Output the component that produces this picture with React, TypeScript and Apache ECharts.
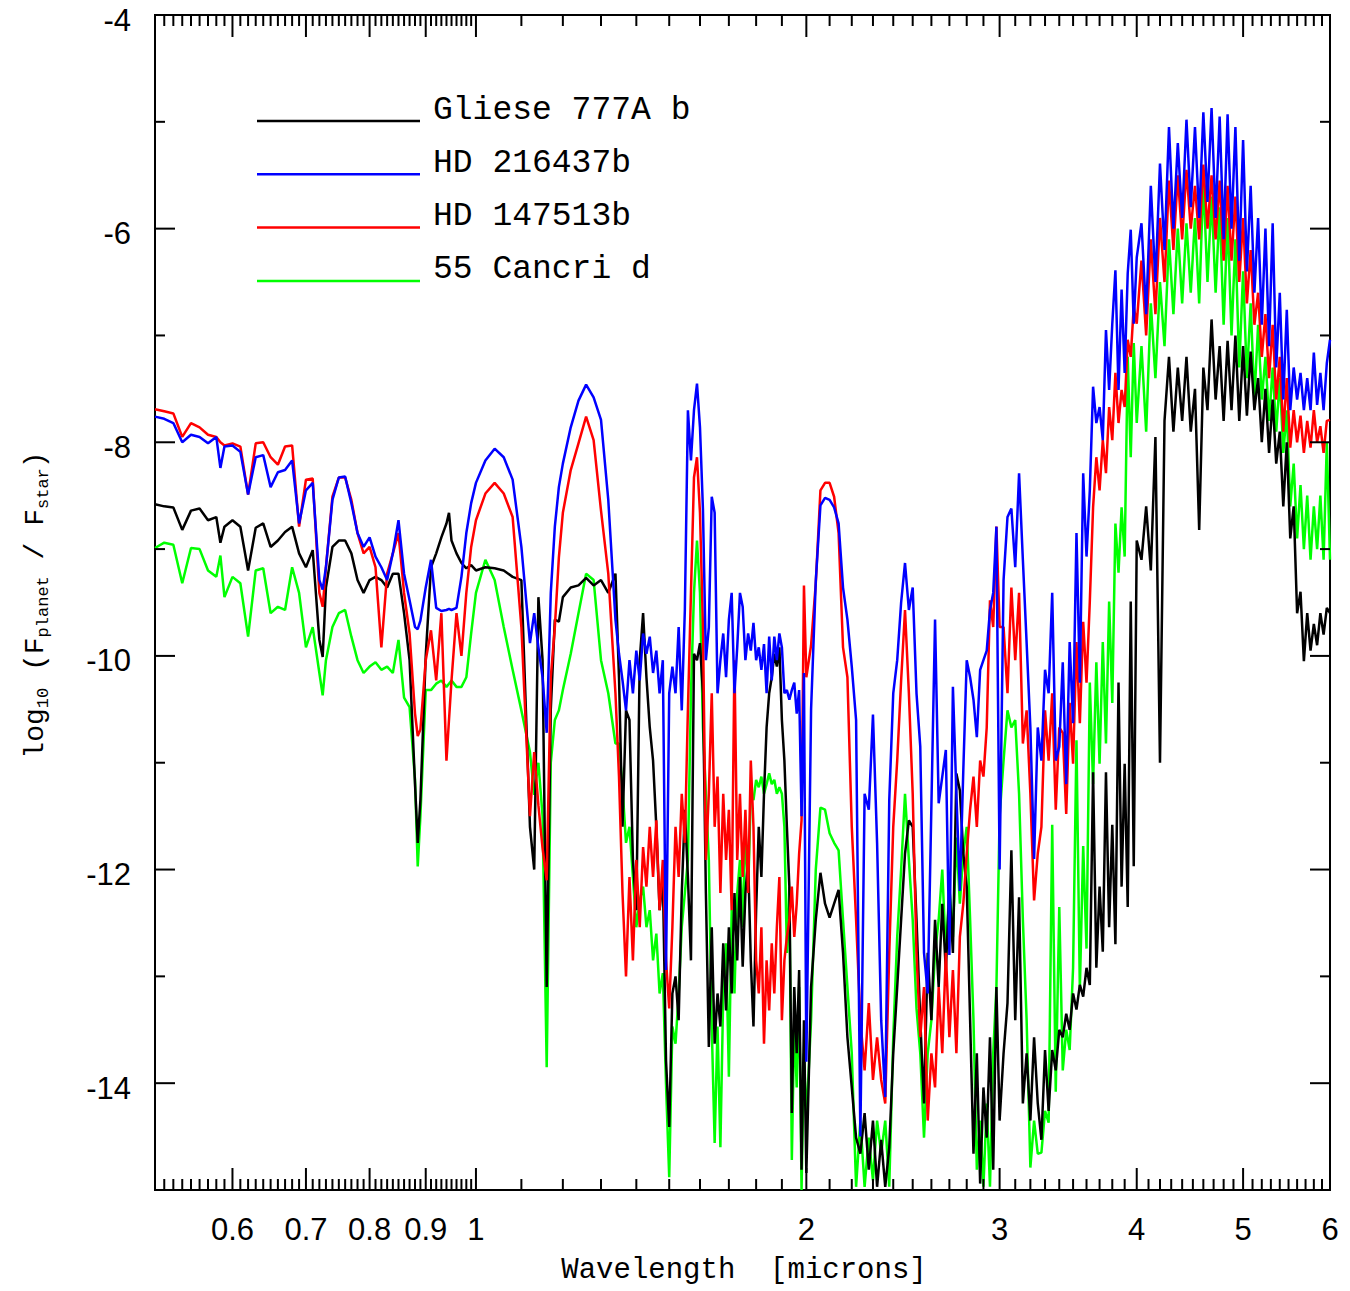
import React, { useEffect, useRef } from "react";
import * as echarts from "echarts";

// ---------------- DATA ----------------
// wavelength grid in microns (shared by the four spectra)
const wavelengths = [
  // 0.51 - 0.90
  0.51, 0.52, 0.53, 0.54, 0.55, 0.56, 0.57, 0.58, 0.585, 0.59,
  0.60, 0.61, 0.62, 0.63, 0.64, 0.65, 0.66, 0.67, 0.68, 0.69,
  0.70, 0.71, 0.72, 0.725, 0.73, 0.74, 0.75, 0.76, 0.77, 0.78,
  0.79, 0.80, 0.81, 0.82, 0.83, 0.84, 0.85, 0.86, 0.87, 0.88,
  0.885, 0.89, 0.90,
  // 0.91 - 1.34
  0.91, 0.92, 0.93, 0.94, 0.945, 0.95, 0.96, 0.97, 0.98, 0.99,
  1.00, 1.02, 1.04, 1.06, 1.08, 1.10, 1.12, 1.13, 1.14, 1.15,
  1.16, 1.17, 1.18, 1.19, 1.20, 1.22, 1.24, 1.26, 1.28, 1.30,
  1.32, 1.34,
  // 1.35 - 2.00
  1.35, 1.36, 1.37, 1.38, 1.39, 1.40, 1.41, 1.42, 1.43, 1.44,
  1.45, 1.46, 1.47, 1.48, 1.49, 1.50, 1.51, 1.52, 1.53, 1.54,
  1.55, 1.56, 1.57, 1.58, 1.59, 1.60, 1.61, 1.62, 1.63, 1.64,
  1.65, 1.66, 1.67, 1.68, 1.69, 1.70, 1.71, 1.72, 1.73, 1.74,
  1.75, 1.76, 1.77, 1.78, 1.79, 1.80, 1.81, 1.82, 1.83, 1.84,
  1.85, 1.86, 1.87, 1.88, 1.89, 1.90, 1.91, 1.92, 1.93, 1.94,
  1.95, 1.96, 1.97, 1.98, 1.99, 2.00,
  // 2.02 - 3.00
  2.02, 2.04, 2.06, 2.08, 2.10, 2.12, 2.14, 2.16, 2.18, 2.20,
  2.22, 2.24, 2.26, 2.28, 2.30, 2.32, 2.34, 2.36, 2.38, 2.40,
  2.42, 2.44, 2.46, 2.48, 2.50, 2.52, 2.54, 2.56, 2.58, 2.60,
  2.62, 2.64, 2.66, 2.68, 2.70, 2.72, 2.74, 2.76, 2.78, 2.80,
  2.82, 2.84, 2.86, 2.88, 2.90, 2.92, 2.94, 2.96, 2.98, 3.00,
  // 3.025 - 4.00
  3.025, 3.05, 3.075, 3.10, 3.125, 3.15, 3.175, 3.20, 3.225, 3.25,
  3.275, 3.30, 3.325, 3.35, 3.375, 3.40, 3.425, 3.45, 3.475, 3.50,
  3.525, 3.55, 3.575, 3.60, 3.625, 3.65, 3.675, 3.70, 3.725, 3.75,
  3.775, 3.80, 3.825, 3.85, 3.875, 3.90, 3.925, 3.95, 3.975, 4.00,
  // 4.04 - 6.00
  4.04, 4.08, 4.12, 4.16, 4.20, 4.24, 4.28, 4.32, 4.36, 4.40,
  4.44, 4.48, 4.52, 4.56, 4.60, 4.64, 4.68, 4.72, 4.76, 4.80,
  4.84, 4.88, 4.92, 4.96, 5.00, 5.04, 5.08, 5.12, 5.16, 5.20,
  5.24, 5.28, 5.32, 5.36, 5.40, 5.44, 5.48, 5.52, 5.56, 5.60,
  5.64, 5.68, 5.72, 5.76, 5.80, 5.84, 5.88, 5.92, 5.96, 6.00,
];

// log10(F_planet / F_star)
const gliese777Ab = [
  -8.58, -8.60, -8.61, -8.82, -8.64, -8.62, -8.73, -8.70, -8.94, -8.79,
  -8.73, -8.79, -9.20, -8.80, -8.76, -8.98, -8.92, -8.84, -8.79, -9.04,
  -9.17, -9.01, -9.85, -10.01, -9.36, -8.98, -8.92, -8.92, -9.04, -9.29,
  -9.41, -9.29, -9.26, -9.29, -9.36, -9.23, -9.23, -9.60, -10.04, -11.20,
  -11.75, -11.35, -10.00,
  -9.17, -9.04, -8.89, -8.76, -8.66, -8.92, -9.04, -9.13, -9.18, -9.15,
  -9.20, -9.17, -9.18, -9.20, -9.26, -9.29, -11.60, -12.00, -9.45, -10.04,
  -13.10, -10.50, -9.66, -9.68, -9.45, -9.36, -9.34, -9.27, -9.34, -9.29,
  -9.41, -9.23,
  -10.20, -11.60, -10.51, -10.60, -11.91, -12.38, -10.04, -9.60, -10.20, -10.67,
  -10.98, -11.60, -12.38, -12.07, -13.79, -14.41, -13.16, -13.00, -13.41, -12.22,
  -11.44, -12.07, -12.85, -9.98, -10.04, -9.88, -10.35, -12.22, -13.66, -12.54,
  -13.63, -13.16, -13.47, -12.69, -13.32, -12.54, -13.16, -12.22, -12.85, -12.07,
  -12.91, -12.22, -11.91, -12.85, -13.47, -12.38, -11.60, -12.07, -11.29, -10.67,
  -10.35, -10.20, -9.98, -10.10, -9.92, -10.60, -10.98, -11.60, -12.16, -14.28,
  -13.10, -13.72, -12.94, -14.81, -13.41, -14.84,
  -13.10, -12.47, -12.03, -12.32, -12.45, -12.32, -12.19, -12.78, -13.57, -14.04,
  -14.51, -14.66, -14.28, -14.81, -14.35, -14.97, -14.53, -14.97, -14.60, -13.72,
  -13.10, -12.47, -11.85, -11.54, -11.60, -12.47, -13.41, -14.19, -12.78, -13.41,
  -12.47, -13.10, -12.32, -12.94, -12.16, -12.78, -11.10, -11.26, -11.85, -12.16,
  -13.41, -14.66, -13.72, -14.94, -14.04, -14.51, -13.57, -14.81, -13.10, -14.35,
  -13.72, -13.25, -11.82, -13.41, -12.26, -14.19, -13.72, -14.35, -13.57, -14.19,
  -14.53, -13.69, -14.26, -13.69, -13.88, -13.50, -13.57, -13.35, -13.50, -13.16,
  -13.31, -13.08, -13.19, -12.92, -13.08, -11.09, -12.92, -12.16, -12.77, -11.09,
  -12.54, -11.58, -12.70, -10.25, -12.16, -11.01, -12.35, -9.49, -11.97, -8.92,
  -9.10, -8.60, -9.20, -7.95, -11.00, -7.80, -7.20, -7.90, -7.30, -7.80,
  -7.20, -7.90, -7.50, -8.82, -7.30, -7.70, -6.85, -7.60, -7.10, -7.80,
  -7.05, -7.70, -7.00, -7.80, -7.10, -7.75, -7.15, -7.70, -7.40, -8.00,
  -7.50, -8.10, -7.60, -8.20, -7.90, -8.60, -8.00, -8.90, -8.60, -9.60,
  -9.40, -10.05, -9.60, -9.95, -9.70, -9.90, -9.60, -9.80, -9.55, -9.60,
];

const hd216437b = [
  -7.76, -7.78, -7.82, -8.00, -7.93, -7.95, -8.01, -7.95, -8.24, -8.04,
  -8.03, -8.09, -8.49, -8.14, -8.12, -8.42, -8.28, -8.26, -8.17, -8.76,
  -8.45, -8.38, -9.29, -9.38, -9.17, -8.54, -8.33, -8.32, -8.57, -8.85,
  -8.98, -8.89, -9.07, -9.17, -9.29, -9.04, -8.73, -9.23, -9.48, -9.73,
  -9.75, -9.67, -9.36,
  -9.10, -9.55, -9.58, -9.57, -9.56, -9.57, -9.55, -9.26, -8.85, -8.57,
  -8.38, -8.17, -8.06, -8.14, -8.35, -8.98, -9.88, -9.60, -9.92, -10.20,
  -10.72, -9.41, -8.79, -8.42, -8.20, -7.86, -7.61, -7.46, -7.58, -7.79,
  -8.54, -9.66,
  -9.98, -10.23, -10.51, -10.04, -10.35, -9.95, -10.23, -9.79, -9.98, -9.82,
  -10.16, -9.95, -10.35, -10.04, -12.94, -10.35, -10.10, -10.35, -9.73, -10.51,
  -9.57, -7.70, -8.17, -7.70, -7.45, -7.86, -8.63, -10.04, -9.73, -8.51,
  -8.66, -10.35, -10.04, -9.79, -10.20, -9.66, -9.41, -10.35, -9.92, -9.41,
  -9.54, -10.04, -9.79, -9.95, -9.69, -10.04, -9.92, -10.13, -9.89, -10.35,
  -9.82, -10.23, -9.82, -10.04, -9.79, -9.92, -10.35, -10.32, -10.41, -10.32,
  -10.25, -10.54, -10.32, -11.50, -10.16, -13.80,
  -10.50, -9.30, -8.59, -8.52, -8.54, -8.61, -8.76, -9.36, -9.66, -10.10,
  -10.60, -14.50, -11.29, -11.44, -10.55, -11.75, -13.41, -14.13, -11.35, -10.35,
  -10.04, -9.50, -9.13, -9.57, -9.36, -10.35, -10.85, -12.78, -13.16, -11.40,
  -9.66, -11.38, -11.13, -10.88, -12.80, -10.29, -11.29, -12.20, -11.07, -10.04,
  -10.20, -10.41, -10.76, -10.13, -10.04, -9.95, -9.57, -9.41, -8.79, -12.00,
  -9.29, -8.70, -8.62, -9.17, -8.29, -9.10, -9.88, -10.67, -11.90, -10.67,
  -10.98, -10.13, -10.35, -9.41, -10.98, -10.85, -10.06, -11.20, -9.87, -10.63,
  -8.85, -10.25, -8.29, -9.07, -8.45, -7.48, -7.82, -7.67, -7.98, -6.95,
  -7.51, -6.89, -6.39, -7.51, -6.57, -7.35, -6.42, -6.01, -6.89, -6.27,
  -5.95, -6.80, -5.60, -6.50, -5.39, -6.20, -5.05, -6.00, -5.20, -5.90,
  -4.98, -5.80, -5.05, -5.90, -4.91, -5.75, -4.87, -5.90, -4.95, -6.10,
  -4.93, -6.00, -5.05, -6.30, -5.17, -6.40, -5.60, -6.60, -5.90, -6.90,
  -6.00, -7.10, -5.95, -7.30, -6.60, -7.60, -6.76, -7.70, -7.30, -7.60,
  -7.35, -7.70, -7.40, -7.70, -7.16, -7.65, -7.35, -7.70, -7.26, -7.04,
];

const hd147513b = [
  -7.69, -7.71, -7.73, -7.95, -7.82, -7.86, -7.93, -7.95, -8.00, -8.03,
  -8.01, -8.04, -8.49, -8.01, -8.00, -8.14, -8.21, -8.04, -8.03, -8.79,
  -8.35, -8.34, -9.41, -9.54, -9.17, -8.51, -8.33, -8.33, -8.54, -8.85,
  -9.04, -8.98, -9.17, -9.92, -9.23, -9.04, -8.85, -9.41, -9.79, -10.54,
  -10.75, -10.69, -10.04,
  -9.76, -10.23, -9.60, -10.98, -10.60, -10.23, -9.60, -10.00, -9.41, -8.98,
  -8.73, -8.48, -8.38, -8.48, -8.70, -9.73, -11.50, -10.90, -11.40, -11.80,
  -12.10, -10.20, -9.73, -9.08, -8.66, -8.26, -8.01, -7.76, -7.98, -8.64,
  -9.23, -10.35,
  -11.13, -12.22, -13.00, -12.07, -12.85, -11.91, -12.54, -11.79, -12.16, -11.60,
  -12.07, -11.54, -12.38, -11.91, -12.85, -13.30, -12.54, -11.60, -12.07, -11.29,
  -11.75, -10.50, -9.41, -8.33, -8.14, -8.66, -9.73, -11.91, -11.29, -10.35,
  -11.60, -11.13, -12.22, -11.29, -11.91, -11.44, -12.38, -10.04, -11.91, -11.29,
  -12.07, -11.44, -12.22, -10.98, -11.60, -12.85, -13.16, -12.54, -13.63, -12.85,
  -13.32, -12.69, -13.16, -12.54, -12.07, -13.41, -12.85, -12.63, -12.47, -12.16,
  -12.63, -12.32, -11.85, -11.54, -9.34, -10.20,
  -9.90, -9.32, -8.45, -8.38, -8.38, -8.51, -8.85, -9.92, -10.20, -11.60,
  -12.47, -13.41, -13.88, -13.25, -13.97, -13.57, -13.97, -14.19, -12.78, -11.60,
  -10.98, -10.23, -9.57, -10.35, -11.29, -12.78, -13.57, -13.10, -14.35, -13.72,
  -14.04, -13.10, -13.72, -12.78, -13.57, -12.94, -13.72, -12.63, -12.32, -11.85,
  -11.44, -11.13, -11.60, -10.98, -11.13, -10.67, -9.48, -9.73, -8.79, -9.73,
  -9.73, -10.35, -9.36, -10.04, -9.41, -10.82, -10.51, -11.29, -12.29, -11.85,
  -11.60, -10.51, -10.98, -10.35, -11.44, -10.67, -10.72, -11.48, -10.44, -11.01,
  -9.87, -10.63, -9.68, -10.25, -9.49, -8.61, -8.14, -8.45, -7.98, -8.29,
  -7.67, -7.98, -7.35, -7.82, -7.51, -7.67, -7.04, -7.20, -6.73, -6.89,
  -6.30, -7.00, -6.10, -6.80, -5.90, -6.50, -5.55, -6.20, -5.50, -6.10,
  -5.45, -6.00, -5.60, -6.10, -5.40, -6.00, -5.50, -6.10, -5.55, -6.30,
  -5.60, -6.30, -5.70, -6.50, -5.90, -6.70, -6.20, -6.90, -6.60, -7.20,
  -6.80, -7.40, -6.90, -7.60, -7.20, -7.90, -7.40, -8.05, -7.70, -8.00,
  -7.75, -8.10, -7.80, -8.05, -7.70, -8.00, -7.85, -8.10, -7.80, -7.79,
];

const cancri55d = [
  -8.99, -8.94, -8.96, -9.32, -8.99, -9.00, -9.20, -9.26, -9.06, -9.45,
  -9.26, -9.32, -9.82, -9.20, -9.18, -9.60, -9.54, -9.57, -9.17, -9.41,
  -9.92, -9.73, -10.16, -10.37, -10.04, -9.73, -9.60, -9.57, -9.82, -10.04,
  -10.16, -10.10, -10.06, -10.13, -10.10, -10.16, -9.85, -10.39, -10.48, -11.16,
  -11.97, -11.50, -10.32,
  -10.32, -10.26, -10.23, -10.29, -10.26, -10.23, -10.29, -10.29, -10.20, -9.79,
  -9.41, -9.10, -9.29, -9.73, -10.13, -10.51, -10.90, -11.30, -11.00, -11.50,
  -13.85, -11.00, -10.60, -10.51, -10.32, -9.98, -9.60, -9.23, -9.29, -10.04,
  -10.35, -10.82,
  -10.82, -11.23, -11.75, -11.60, -12.07, -12.54, -12.29, -12.16, -12.54, -12.38,
  -12.85, -12.60, -13.16, -12.97, -14.02, -14.88, -13.47, -13.63, -13.16, -12.54,
  -12.22, -11.91, -10.35, -9.41, -8.92, -9.41, -10.67, -11.29, -11.91, -13.47,
  -14.56, -13.47, -14.60, -13.16, -12.69, -13.94, -12.38, -13.16, -12.22, -11.91,
  -12.54, -11.60, -12.22, -11.29, -11.35, -11.16, -11.23, -11.13, -11.29, -11.20,
  -11.10, -11.20, -11.16, -11.29, -11.23, -11.29, -11.60, -12.78, -12.16, -14.72,
  -13.41, -14.04, -13.10, -15.00, -13.72, -14.35,
  -13.41, -12.00, -11.42, -11.44, -11.66, -11.75, -11.82, -12.47, -13.10, -13.72,
  -14.97, -14.35, -14.97, -14.51, -14.91, -14.35, -14.66, -14.35, -14.97, -13.57,
  -12.63, -12.00, -11.29, -11.91, -12.47, -13.30, -13.72, -14.51, -13.72, -13.41,
  -12.78, -12.47, -12.00, -12.78, -12.16, -12.63, -11.70, -12.32, -11.85, -11.60,
  -12.47, -13.41, -14.81, -14.35, -14.97, -14.19, -14.97, -13.72, -13.10, -11.50,
  -10.98, -10.51, -10.67, -10.60, -11.29, -12.47, -13.41, -14.79, -14.35, -14.66,
  -14.65, -14.26, -14.37, -11.58, -14.08, -12.35, -13.88, -13.50, -13.69, -12.92,
  -10.79, -13.12, -11.78, -12.74, -10.25, -11.20, -10.06, -11.01, -9.87, -10.82,
  -9.49, -10.44, -8.76, -9.22, -8.61, -9.07, -7.20, -8.14, -7.07, -7.82,
  -7.10, -7.90, -6.70, -7.40, -6.50, -7.10, -6.10, -6.80, -6.00, -6.70,
  -5.95, -6.60, -5.90, -6.70, -5.55, -6.50, -5.70, -6.60, -5.80, -6.90,
  -5.90, -7.00, -6.10, -7.30, -6.40, -7.40, -6.70, -7.60, -6.90, -7.60,
  -7.20, -7.80, -7.30, -7.90, -7.40, -8.10, -7.70, -8.60, -8.20, -8.90,
  -8.40, -9.00, -8.50, -9.10, -8.60, -9.00, -8.50, -9.10, -8.00, -9.10,
];

const seriesNames = ["Gliese 777A b", "HD 216437b", "HD 147513b", "55 Cancri d"];
const seriesColors = ["#000000", "#0000ff", "#ff0000", "#00ff00"];

// axis ticks
const xMajorTicks = [0.6, 0.7, 0.8, 0.9, 1, 2, 3, 4, 5, 6];
const xTickLabels = ["0.6", "0.7", "0.8", "0.9", "1", "2", "3", "4", "5", "6"];
const xMinorTicks = [
  0.52, 0.53, 0.54, 0.55, 0.56, 0.57, 0.58, 0.59,
  0.61, 0.62, 0.63, 0.64, 0.65, 0.66, 0.67, 0.68, 0.69,
  0.71, 0.72, 0.73, 0.74, 0.75, 0.76, 0.77, 0.78, 0.79,
  0.81, 0.82, 0.83, 0.84, 0.85, 0.86, 0.87, 0.88, 0.89,
  0.91, 0.92, 0.93, 0.94, 0.95, 0.96, 0.97, 0.98, 0.99,
  1.1, 1.2, 1.3, 1.4, 1.5, 1.6, 1.7, 1.8, 1.9,
  2.1, 2.2, 2.3, 2.4, 2.5, 2.6, 2.7, 2.8, 2.9,
  3.1, 3.2, 3.3, 3.4, 3.5, 3.6, 3.7, 3.8, 3.9,
  4.1, 4.2, 4.3, 4.4, 4.5, 4.6, 4.7, 4.8, 4.9,
  5.1, 5.2, 5.3, 5.4, 5.5, 5.6, 5.7, 5.8, 5.9,
];
const yMajorTicks = [-14, -12, -10, -8, -6];
const yMinorTicks = [-13, -11, -9, -7, -5];
const yLabelValues = [-14, -12, -10, -8, -6, -4];
const yTickLabels = ["-14", "-12", "-10", "-8", "-6", "-4"];

const X_MIN = 0.51;
const X_MAX = 6;
const Y_MIN = -15;
const Y_MAX = -4;

const MONO = "'Liberation Mono', 'DejaVu Sans Mono', monospace";
const SANS = "'Liberation Sans', Arial, sans-serif";

function xTickSeries(values: number[], len: number) {
  return {
    type: "custom",
    silent: true,
    clip: false,
    data: values.map((v) => [v, Y_MIN]),
    encode: { x: 0, y: 1 },
    renderItem: (params: any, api: any) => {
      const cs = params.coordSys;
      const px = api.coord([api.value(0), api.value(1)])[0];
      const bottom = cs.y + cs.height;
      const top = cs.y;
      return {
        type: "group",
        children: [
          { type: "line", shape: { x1: px, y1: bottom, x2: px, y2: bottom - len }, style: { stroke: "#000", lineWidth: 2 } },
          { type: "line", shape: { x1: px, y1: top, x2: px, y2: top + len }, style: { stroke: "#000", lineWidth: 2 } },
        ],
      };
    },
    z: 5,
  };
}

function yTickSeries(values: number[], len: number) {
  return {
    type: "custom",
    silent: true,
    clip: false,
    data: values.map((v) => [X_MIN, v]),
    encode: { x: 0, y: 1 },
    renderItem: (params: any, api: any) => {
      const cs = params.coordSys;
      const py = api.coord([api.value(0), api.value(1)])[1];
      const left = cs.x;
      const right = cs.x + cs.width;
      return {
        type: "group",
        children: [
          { type: "line", shape: { x1: left, y1: py, x2: left + len, y2: py }, style: { stroke: "#000", lineWidth: 2 } },
          { type: "line", shape: { x1: right, y1: py, x2: right - len, y2: py }, style: { stroke: "#000", lineWidth: 2 } },
        ],
      };
    },
    z: 5,
  };
}

export default function App() {
  const ref = useRef<HTMLDivElement>(null);

  useEffect(() => {
    if (!ref.current) return;
    const chart = echarts.init(ref.current, undefined, { renderer: "svg" });

    const spectra = [gliese777Ab, hd216437b, hd147513b, cancri55d];
    // draw order: green, black, red, blue (blue on top)
    const drawOrder = [3, 0, 2, 1];
    const lineSeries = drawOrder.map((k) => ({
      type: "line",
      name: seriesNames[k],
      data: wavelengths.map((w, i) => [w, spectra[k][i]]),
      showSymbol: false,
      symbol: "none",
      clip: true,
      lineStyle: { color: seriesColors[k], width: 2.5 },
      itemStyle: { color: seriesColors[k] },
      z: 2,
    }));

    const option: any = {
      animation: false,
      backgroundColor: "#ffffff",
      grid: {
        left: 155,
        top: 15,
        width: 1175,
        height: 1175,
        show: true,
        borderColor: "#000",
        borderWidth: 2,
        backgroundColor: "transparent",
        containLabel: false,
        outerBoundsMode: "none",
      },
      xAxis: {
        type: "log",
        logBase: 10,
        min: X_MIN,
        max: X_MAX,
        axisLine: { show: false },
        axisTick: { show: false },
        axisLabel: { show: false },
        splitLine: { show: false },
        minorTick: { show: false },
        minorSplitLine: { show: false },
      },
      yAxis: {
        type: "value",
        min: Y_MIN,
        max: Y_MAX,
        interval: 1,
        axisLine: { show: false },
        axisTick: { show: false },
        splitLine: { show: false },
        axisLabel: { show: false },
      },
      series: [
        ...lineSeries,
        xTickSeries(xMinorTicks, 11),
        xTickSeries(xMajorTicks, 22),
        yTickSeries(yMinorTicks, 10),
        yTickSeries(yMajorTicks, 20),
        {
          type: "custom",
          silent: true,
          clip: false,
          data: xMajorTicks.map((v) => [v, Y_MIN]),
          encode: { x: 0, y: 1 },
          renderItem: (params: any, api: any) => {
            const cs = params.coordSys;
            const px = api.coord([api.value(0), api.value(1)])[0];
            return {
              type: "text",
              x: px,
              y: cs.y + cs.height + 39,
              style: {
                text: xTickLabels[params.dataIndex],
                fontSize: 31,
                fontFamily: SANS,
                fill: "#000",
                align: "center",
                verticalAlign: "middle",
              },
            };
          },
          z: 5,
        },
        {
          type: "custom",
          silent: true,
          clip: false,
          data: yLabelValues.map((v) => [X_MIN, v]),
          encode: { x: 0, y: 1 },
          renderItem: (params: any, api: any) => {
            const cs = params.coordSys;
            const py = api.coord([api.value(0), api.value(1)])[1];
            return {
              type: "text",
              x: cs.x - 24,
              y: py + 5,
              style: {
                text: yTickLabels[params.dataIndex],
                fontSize: 31,
                fontFamily: SANS,
                fill: "#000",
                align: "right",
                verticalAlign: "middle",
              },
            };
          },
          z: 5,
        },
      ],
      graphic: [
        ...seriesNames.map((name, i) => ({
          type: "line",
          silent: true,
          shape: { x1: 257, y1: 121 + i * 53.3, x2: 420, y2: 121 + i * 53.3 },
          style: { stroke: seriesColors[i], lineWidth: 2.5 },
        })),
        ...seriesNames.map((name, i) => ({
          type: "text",
          silent: true,
          x: 433,
          y: 110 + i * 53.3,
          style: {
            text: name,
            fontSize: 33,
            fontFamily: MONO,
            fill: "#000",
            align: "left",
            verticalAlign: "middle",
          },
        })),
        {
          type: "text",
          silent: true,
          x: 744,
          y: 1270,
          style: {
            text: "Wavelength  [microns]",
            fontSize: 29,
            fontFamily: MONO,
            fill: "#000",
            align: "center",
            verticalAlign: "middle",
          },
        },
        {
          type: "text",
          silent: true,
          x: 35,
          y: 605,
          rotation: Math.PI / 2,
          style: {
            text: "{m|log}{s|10}{m| (F}{s|planet}{m| / F}{s|star}{m|)}",
            align: "center",
            verticalAlign: "middle",
            rich: {
              m: { fontSize: 28, fontFamily: MONO, fill: "#000", lineHeight: 34 },
              s: { fontSize: 17, fontFamily: MONO, fill: "#000", lineHeight: 17, verticalAlign: "bottom" },
            },
          },
        },
      ],
    };

    chart.setOption(option);
    return () => {
      chart.dispose();
    };
  }, []);

  return (
    <div
      ref={ref}
      style={{ position: "absolute", left: 0, top: 0, width: 1350, height: 1291, background: "#fff" }}
    />
  );
}
